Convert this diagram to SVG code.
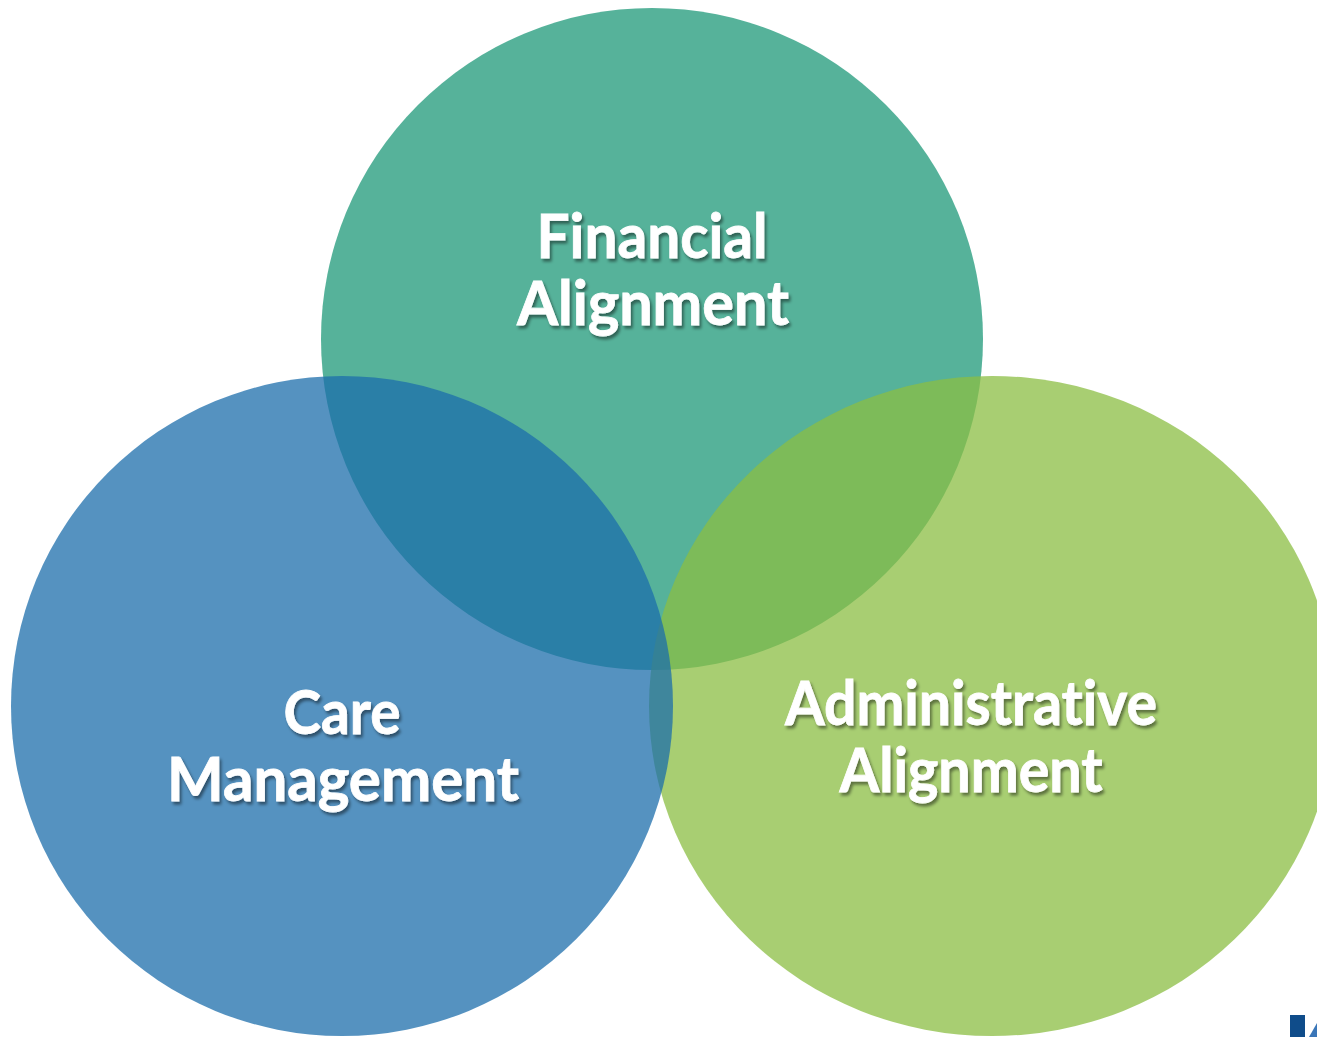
<svg xmlns="http://www.w3.org/2000/svg" width="1317" height="1037" viewBox="0 0 1317 1037">
<defs>
<filter id="sh" x="-10%" y="-20%" width="120%" height="140%">
<feDropShadow dx="2" dy="3" stdDeviation="1.5" flood-color="#000" flood-opacity="0.45"/>
</filter>
<style>
.c{fill-opacity:0.75}
.t{font-family:Lato,"Open Sans","Liberation Sans",sans-serif;font-weight:bold;font-size:62px;fill:#fff;stroke:#fff;stroke-width:0.8px;text-anchor:middle;font-variant-ligatures:none;font-feature-settings:"liga" 0;filter:url(#sh)}
</style>
</defs>
<rect width="1317" height="1037" fill="#fff"/>
<g id="financial">
<circle class="c" cx="652" cy="339" r="331" fill="#1E9878"/>
</g>
<g id="administrative">
<ellipse class="c" cx="992" cy="706" rx="343" ry="330" fill="#8BBE43"/>
</g>
<g id="care">
<ellipse class="c" cx="342" cy="706" rx="331" ry="330" fill="#1C6EAB"/>
</g>
<g id="labels">
<text class="t" x="652" y="258" textLength="231" lengthAdjust="spacingAndGlyphs">Financial</text>
<text class="t" x="653" y="325" textLength="272" lengthAdjust="spacingAndGlyphs">Alignment</text>
<text class="t" x="342" y="734" textLength="117" lengthAdjust="spacingAndGlyphs">Care</text>
<text class="t" x="343" y="801" textLength="352" lengthAdjust="spacingAndGlyphs">Management</text>
<text class="t" x="971" y="725" textLength="372" lengthAdjust="spacingAndGlyphs">Administrative</text>
<text class="t" x="971" y="792" textLength="263" lengthAdjust="spacingAndGlyphs">Alignment</text>
</g>
<g id="logo">
<rect x="1290" y="1015" width="15" height="22" fill="#0F4C8A"/>
<polygon points="1309,1037 1317,1023 1317,1037" fill="#3A76B8"/>
</g>
<g id="connectors"/>
</svg>
